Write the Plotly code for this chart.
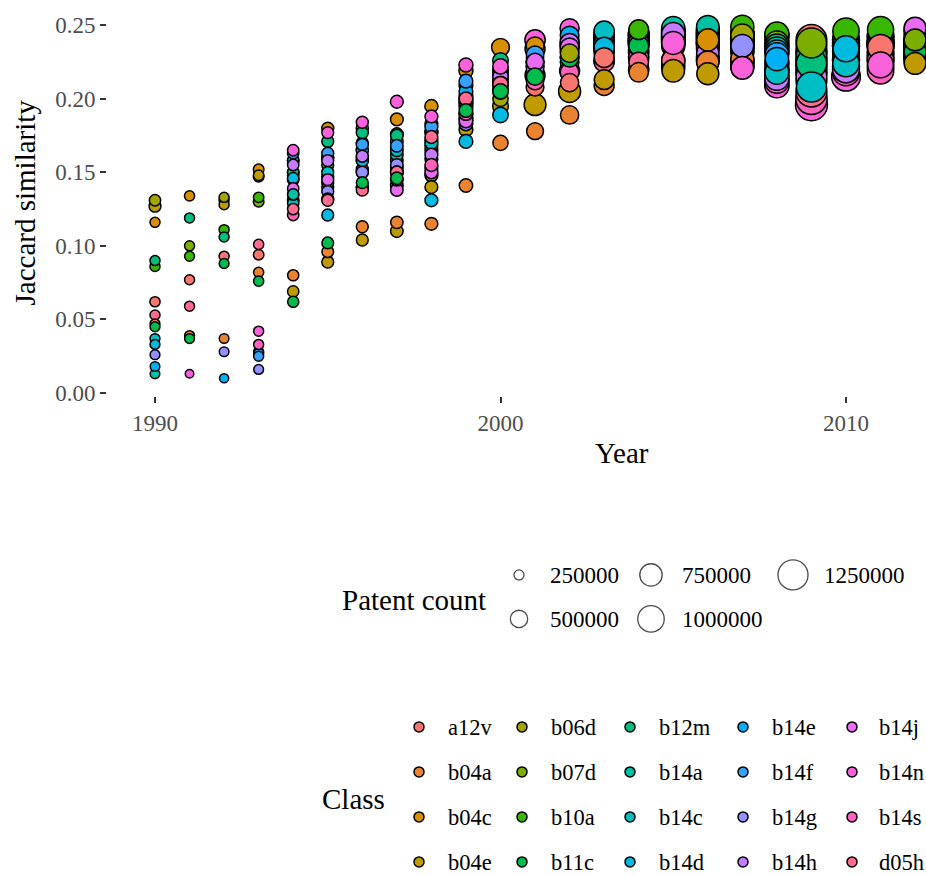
import math
import plotly.graph_objects as go

W, H = 926, 876
FONT = "Liberation Serif, Times New Roman, serif"

years = [1990, 1991, 1992, 1993, 1994, 1995, 1996, 1997, 1998, 1999, 2000, 2001,
         2002, 2003, 2004, 2005, 2006, 2007, 2008, 2009, 2010, 2011, 2012]

class_names = ["a12v", "b04a", "b04c", "b04e", "b06d", "b07d", "b10a", "b11c", "b12m", "b14a",
               "b14c", "b14d", "b14e", "b14f", "b14g", "b14h", "b14j", "b14n", "b14s", "d05h"]
class_colors = ["#F8766D", "#EA8331", "#D89000", "#C09B00", "#A3A500", "#7CAE00", "#39B600", "#00BB4E",
                "#00BF7D", "#00C1A3", "#00BFC4", "#00BAE0", "#00B0F6", "#35A2FF", "#9590FF", "#C77CFF",
                "#E76BF3", "#FA62DB", "#FF62BC", "#FF6C91"]

# Jaccard similarity per class, 1990..2012 (None = not shown)
sim_a12v = [0.062, 0.077, 0.093, 0.094, 0.131, 0.140, 0.152, 0.171, 0.177, 0.209, 0.215, 0.208, 0.211, 0.228, 0.232, 0.236, 0.238, 0.240, 0.243, 0.240, 0.238, 0.235, 0.236]
sim_b04a = [0.047, 0.039, 0.037, 0.082, 0.080, 0.096, 0.113, 0.116, 0.115, 0.141, 0.170, 0.178, 0.189, 0.209, 0.218, 0.222, 0.225, 0.227, 0.225, 0.226, 0.227, 0.228, 0.229]
sim_b04c = [0.116, 0.134, 0.131, 0.152, 0.158, 0.180, 0.180, 0.186, 0.195, 0.219, 0.235, 0.236, 0.240, 0.242, 0.244, 0.242, 0.240, 0.240, 0.236, 0.232, 0.236, 0.238, 0.240]
sim_b04e = [0.127, None, 0.128, 0.148, 0.069, 0.089, 0.104, 0.110, 0.140, 0.179, 0.195, 0.196, 0.205, 0.213, 0.220, 0.219, 0.217, 0.224, 0.220, 0.218, 0.220, 0.222, 0.224]
sim_b06d = [0.131, None, 0.133, 0.147, 0.150, 0.160, 0.170, 0.176, 0.183, 0.187, 0.200, 0.228, 0.231, 0.238, 0.240, 0.242, 0.244, 0.243, 0.240, 0.236, 0.240, 0.242, 0.242]
sim_b07d = [None, 0.100, None, 0.130, 0.145, 0.147, 0.158, 0.141, 0.148, 0.195, 0.207, 0.225, 0.232, 0.236, 0.238, 0.240, 0.240, 0.242, 0.238, 0.238, 0.240, 0.243, 0.240]
sim_b10a = [0.086, 0.093, 0.111, 0.133, 0.148, 0.155, 0.150, 0.158, 0.165, 0.197, 0.210, 0.222, 0.225, 0.240, 0.247, 0.246, 0.246, 0.249, 0.244, 0.232, 0.246, 0.247, 0.246]
sim_b11c = [0.045, 0.037, 0.088, 0.076, 0.062, 0.102, 0.143, 0.146, 0.159, 0.192, 0.205, 0.215, 0.228, 0.232, 0.236, 0.238, 0.244, 0.236, 0.232, 0.229, 0.236, 0.238, 0.232]
sim_b12m = [0.090, 0.119, 0.106, None, 0.150, 0.171, 0.177, 0.175, 0.168, 0.202, 0.226, 0.226, 0.236, 0.240, 0.242, 0.244, 0.242, 0.244, 0.236, 0.224, 0.238, 0.240, 0.236]
sim_b14a = [0.013, None, None, None, 0.135, 0.143, 0.160, 0.162, 0.172, 0.198, 0.218, 0.224, 0.234, 0.240, 0.244, 0.248, 0.249, 0.244, 0.234, 0.222, 0.236, 0.238, 0.236]
sim_b14c = [0.037, None, None, 0.028, 0.129, 0.150, 0.165, 0.165, 0.170, 0.200, 0.215, 0.222, 0.236, 0.246, 0.244, 0.246, 0.247, 0.244, 0.218, 0.208, 0.224, 0.232, 0.234]
sim_b14d = [0.033, None, None, None, 0.146, 0.121, 0.158, 0.150, 0.131, 0.171, 0.189, 0.222, 0.238, 0.235, 0.240, 0.240, 0.238, 0.238, 0.232, 0.225, 0.234, 0.236, 0.238]
sim_b14e = [0.018, None, 0.010, 0.027, 0.158, 0.160, 0.165, 0.153, 0.178, 0.205, 0.218, 0.225, 0.243, 0.240, 0.240, 0.244, 0.242, 0.236, 0.227, 0.228, 0.236, 0.238, 0.238]
sim_b14f = [None, None, None, 0.025, 0.163, 0.163, 0.169, 0.168, 0.181, 0.212, 0.220, 0.230, 0.238, 0.242, 0.242, 0.242, 0.240, 0.240, 0.230, 0.222, 0.232, 0.236, 0.236]
sim_b14g = [0.026, None, 0.028, 0.016, 0.135, 0.137, 0.150, 0.155, 0.153, 0.183, 0.213, 0.220, 0.228, 0.234, 0.236, 0.238, 0.236, 0.236, 0.224, 0.218, 0.226, 0.230, 0.232]
sim_b14h = [None, None, None, None, 0.155, 0.158, 0.161, 0.150, 0.162, 0.190, 0.215, 0.234, 0.238, 0.236, 0.240, 0.244, 0.231, 0.232, 0.214, 0.212, 0.220, 0.226, 0.228]
sim_b14j = [None, None, None, None, 0.139, 0.145, 0.140, 0.138, 0.150, 0.185, 0.210, 0.225, 0.235, 0.238, 0.238, 0.240, 0.238, 0.234, 0.220, 0.215, 0.226, 0.236, 0.248]
sim_b14n = [None, 0.013, None, 0.042, 0.165, 0.177, 0.184, 0.198, 0.188, 0.223, 0.222, 0.240, 0.248, 0.244, 0.238, 0.238, 0.234, 0.221, 0.209, 0.196, 0.215, 0.223, 0.228]
sim_b14s = [None, None, None, 0.033, 0.121, 0.132, 0.140, 0.145, 0.155, 0.190, 0.205, 0.212, 0.218, 0.226, 0.228, 0.226, 0.226, 0.222, 0.212, 0.200, 0.218, 0.219, 0.226]
sim_d05h = [0.053, 0.059, None, 0.101, 0.125, 0.131, 0.138, 0.150, 0.174, 0.200, 0.210, 0.216, 0.219, 0.225, 0.225, 0.226, 0.228, 0.226, 0.216, 0.205, 0.222, 0.226, 0.230]

# Patent count per class (thousands), 1990..2012
cnt_a12v = [255, 250, 250, 262, 290, 300, 305, 320, 335, 360, 430, 520, 540, 618, 650, 800, 770, 800, 860, 1300, 1020, 960, 740]
cnt_b04a = [245, 245, 240, 255, 280, 295, 300, 315, 330, 350, 410, 480, 540, 620, 600, 800, 745, 780, 830, 1300, 1020, 1000, 740]
cnt_b04c = [250, 255, 250, 265, 290, 305, 310, 325, 340, 370, 520, 520, 560, 640, 650, 800, 740, 800, 840, 1300, 1020, 1000, 740]
cnt_b04e = [300, 250, 250, 260, 285, 300, 300, 320, 330, 360, 430, 720, 730, 610, 640, 760, 730, 800, 840, 1300, 1020, 1000, 715]
cnt_b06d = [285, 250, 250, 265, 290, 300, 305, 320, 330, 365, 420, 500, 550, 640, 650, 800, 770, 782, 840, 1300, 1020, 1000, 740]
cnt_b07d = [260, 250, 250, 265, 290, 305, 305, 325, 335, 365, 420, 500, 560, 640, 650, 800, 770, 800, 830, 1250, 1020, 1000, 720]
cnt_b10a = [250, 248, 250, 260, 285, 300, 305, 320, 330, 360, 420, 500, 560, 640, 615, 800, 770, 790, 840, 1300, 990, 980, 740]
cnt_b11c = [245, 245, 245, 255, 280, 295, 300, 315, 330, 355, 415, 495, 555, 640, 620, 800, 770, 800, 830, 1280, 1020, 1000, 725]
cnt_b12m = [250, 250, 250, 260, 285, 300, 305, 320, 330, 360, 430, 500, 560, 640, 650, 800, 770, 800, 830, 1260, 1020, 1000, 740]
cnt_b14a = [240, 240, 240, 250, 280, 300, 305, 320, 330, 360, 420, 500, 560, 640, 650, 798, 760, 800, 830, 1300, 1020, 1000, 740]
cnt_b14c = [245, 240, 240, 250, 285, 300, 305, 320, 330, 360, 420, 500, 560, 635, 650, 800, 770, 800, 830, 1250, 1000, 1000, 740]
cnt_b14d = [245, 240, 240, 250, 285, 300, 305, 320, 330, 360, 420, 500, 560, 630, 650, 800, 770, 800, 825, 1300, 960, 1000, 740]
cnt_b14e = [240, 240, 230, 250, 285, 300, 305, 320, 330, 360, 420, 520, 560, 640, 650, 800, 770, 800, 800, 1300, 1020, 1000, 740]
cnt_b14f = [240, 240, 240, 250, 285, 300, 305, 320, 330, 360, 420, 500, 560, 640, 650, 800, 770, 800, 825, 1300, 1020, 1000, 740]
cnt_b14g = [245, 240, 240, 245, 285, 300, 305, 320, 330, 360, 420, 500, 560, 640, 650, 800, 770, 770, 835, 1300, 1020, 1000, 740]
cnt_b14h = [240, 240, 240, 250, 285, 300, 305, 320, 330, 360, 420, 625, 560, 640, 650, 795, 750, 800, 845, 1300, 1020, 1000, 740]
cnt_b14j = [240, 240, 240, 250, 285, 300, 305, 320, 330, 360, 420, 500, 560, 640, 650, 800, 770, 800, 840, 1300, 1020, 1000, 730]
cnt_b14n = [240, 215, 240, 250, 285, 300, 305, 330, 330, 370, 420, 640, 580, 640, 650, 785, 770, 765, 870, 1400, 1150, 950, 740]
cnt_b14s = [240, 240, 240, 250, 285, 300, 305, 320, 330, 360, 420, 500, 560, 640, 640, 800, 770, 800, 860, 1350, 1030, 990, 740]
cnt_d05h = [250, 250, 240, 255, 285, 300, 305, 320, 330, 360, 420, 625, 620, 622, 610, 790, 770, 800, 850, 1320, 1030, 1000, 740]

size_breaks = [250000, 500000, 750000, 1000000, 1250000]
size_labels = ["250000", "500000", "750000", "1000000", "1250000"]

y_ticks = [0.00, 0.05, 0.10, 0.15, 0.20, 0.25]
x_ticks = [1990, 2000, 2010]

SIM = [sim_a12v, sim_b04a, sim_b04c, sim_b04e, sim_b06d, sim_b07d, sim_b10a, sim_b11c, sim_b12m, sim_b14a,
       sim_b14c, sim_b14d, sim_b14e, sim_b14f, sim_b14g, sim_b14h, sim_b14j, sim_b14n, sim_b14s, sim_d05h]
CNT = [cnt_a12v, cnt_b04a, cnt_b04c, cnt_b04e, cnt_b06d, cnt_b07d, cnt_b10a, cnt_b11c, cnt_b12m, cnt_b14a,
       cnt_b14c, cnt_b14d, cnt_b14e, cnt_b14f, cnt_b14g, cnt_b14h, cnt_b14j, cnt_b14n, cnt_b14s, cnt_d05h]


def diameter(count):
    return 0.0283 * math.sqrt(max(count - 125000, 0))


rows = []
for color, sims, cnts in zip(class_colors, SIM, CNT):
    for yr, s, c in zip(years, sims, cnts):
        if s is not None:
            rows.append((yr, s, c * 1000, color))
# larger bubbles first so smaller ones stay visible on top
rows.sort(key=lambda r: -r[2])

fig = go.Figure()
fig.add_trace(go.Scatter(
    x=[r[0] for r in rows], y=[r[1] for r in rows], mode="markers", xaxis="x", yaxis="y",
    marker=dict(size=[diameter(r[2]) for r in rows], color=[r[3] for r in rows], opacity=1,
                line=dict(color="black", width=1.5)),
    showlegend=False, hoverinfo="skip"))

# ---- layout geometry (target pixels in the final picture) ----
SY = 0.9887  # vertical squash observed in the rendered capture


def fy(p):
    return p / SY


PX_L, PX_R, PX_T, PX_B = 107, 926, 9, 396
X0_PX, PX_PER_YEAR = 155.0, 34.55
Y0_PX, PX_PER_UNIT = 393.0, 1471.0
x_range = [1990 + (PX_L - X0_PX) / PX_PER_YEAR, 1990 + (PX_R - X0_PX) / PX_PER_YEAR]
y_range = [(Y0_PX - PX_B) / PX_PER_UNIT, (Y0_PX - PX_T) / PX_PER_UNIT]

# ---- Size legend ----
size_key_x = [519, 651, 793]
size_row_y = [575, 619]
sl_x = [size_key_x[i // 2] for i in range(len(size_breaks))]
sl_y = [size_row_y[i % 2] for i in range(len(size_breaks))]
fig.add_trace(go.Scatter(
    x=sl_x, y=sl_y, mode="markers", xaxis="x2", yaxis="y2",
    marker=dict(size=[diameter(b) for b in size_breaks], color="white",
                line=dict(color="black", width=1.3)),
    showlegend=False, hoverinfo="skip", cliponaxis=False))

annotations = []
for i, lab in enumerate(size_labels):
    annotations.append(dict(x=size_key_x[i // 2] + 29, y=size_row_y[i % 2] + 1, xref="x2", yref="y2",
                            text=lab, showarrow=False, xanchor="left", yanchor="middle",
                            font=dict(family=FONT, size=23, color="black")))
annotations.append(dict(x=340, y=600, xref="x2", yref="y2", text="Patent count", showarrow=False,
                        xanchor="left", yanchor="middle", font=dict(family=FONT, size=29, color="black")))

# ---- Class legend ----
class_key_x = [419, 522, 630, 743, 852]
class_label_dx = [27, 27, 27, 27, 25]
class_row_y = [727, 772, 817, 862]
cl_x, cl_y = [], []
for i, name in enumerate(class_names):
    col = i // 4
    kx = class_key_x[col]
    ky = class_row_y[i % 4]
    cl_x.append(kx)
    cl_y.append(ky)
    annotations.append(dict(x=kx + class_label_dx[col], y=ky + 1, xref="x2", yref="y2", text=name,
                            showarrow=False, xanchor="left", yanchor="middle",
                            font=dict(family=FONT, size=22.5, color="black")))
fig.add_trace(go.Scatter(
    x=cl_x, y=cl_y, mode="markers", xaxis="x2", yaxis="y2",
    marker=dict(size=10, color=class_colors, line=dict(color="black", width=1.5)),
    showlegend=False, hoverinfo="skip", cliponaxis=False))
annotations.append(dict(x=320, y=799, xref="x2", yref="y2", text="Class", showarrow=False,
                        xanchor="left", yanchor="middle", font=dict(family=FONT, size=29, color="black")))

# ---- Axis titles ----
annotations.append(dict(x=25, y=(PX_T + PX_B) / 2, xref="x2", yref="y2", text="Jaccard similarity",
                        textangle=-90, showarrow=False, xanchor="center", yanchor="middle",
                        font=dict(family=FONT, size=29, color="black")))
annotations.append(dict(x=622, y=453, xref="x2", yref="y2", text="Year", showarrow=False,
                        xanchor="center", yanchor="middle", font=dict(family=FONT, size=29, color="black")))

fig.update_layout(
    width=W, height=H,
    margin=dict(l=0, r=0, t=0, b=0),
    paper_bgcolor="white", plot_bgcolor="rgba(0,0,0,0)",
    showlegend=False,
    font=dict(family=FONT),
    xaxis=dict(domain=[PX_L / W, PX_R / W], range=x_range, anchor="y",
               tickvals=x_ticks, ticktext=[str(t) for t in x_ticks],
               ticks="outside", ticklen=6, tickwidth=1.5, tickcolor="#333333",
               tickfont=dict(family=FONT, size=23, color="#4D4D4D"),
               showgrid=False, zeroline=False, showline=False, fixedrange=True),
    yaxis=dict(domain=[1 - fy(PX_B) / H, 1 - fy(PX_T) / H], range=y_range, anchor="x",
               tickvals=y_ticks, ticktext=[f"{t:.2f}" for t in y_ticks],
               ticks="outside", ticklen=6, tickwidth=1.5, tickcolor="#333333",
               tickfont=dict(family=FONT, size=23, color="#4D4D4D"),
               showgrid=False, zeroline=False, showline=False, fixedrange=True),
    xaxis2=dict(domain=[0, 1], range=[0, W], anchor="y2", visible=False, fixedrange=True),
    yaxis2=dict(domain=[0, 1], range=[H * SY, 0], anchor="x2", visible=False, fixedrange=True),
    annotations=annotations,
)

fig.write_html("out.html")
